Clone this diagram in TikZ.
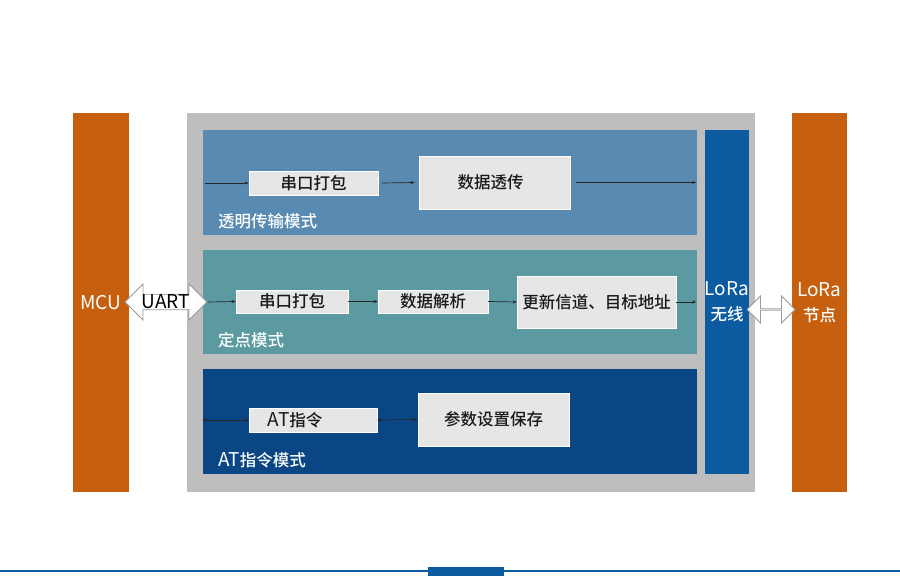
\documentclass[tikz,border=0pt]{standalone}
\usepackage{fontspec}
\usepackage{tikz}
\usetikzlibrary{arrows.meta, positioning, shapes.arrows}
\newfontfamily\cjk{Noto Sans CJK SC}[UprightFont={* Medium}]
\newfontfamily\latn{Noto Sans CJK SC}
\newcommand\lat[1]{{\latn\fontsize{19}{20}\selectfont #1}}
\definecolor{orangebar}{HTML}{C6600F}
\definecolor{framegray}{HTML}{BEBEBE}
\definecolor{tmblue}{HTML}{588AB2}
\definecolor{ddteal}{HTML}{5A9AA0}
\definecolor{atblue}{HTML}{0A4683}
\definecolor{lorablue}{HTML}{0C5AA0}
\definecolor{boxgray}{HTML}{E6E6E7}
\tikzset{
  bar/.style={fill=orangebar, text=white, font=\cjk\fontsize{16.5}{25}\selectfont, align=center, inner sep=0},
  panel/.style={fill=#1, minimum width=494, minimum height=105, inner sep=0},
  stepbox/.style={fill=boxgray, draw=white, line width=0.4pt, text=black!90, font=\cjk\fontsize{16.5}{18}\selectfont, inner sep=0},
  modelabel/.style={text=white, font=\cjk\fontsize{16.5}{18}\selectfont, inner sep=0},
  flow/.style={-{Stealth[length=4pt,width=3pt]}, black!85, line width=0.7pt},
  both/.style={{Stealth[length=4pt,width=3pt]}-{Stealth[length=4pt,width=3pt]}, black!85, line width=0.7pt},
  link/.style={double arrow, draw=gray!80, fill=white, line width=0.8pt, inner sep=0}
}
\begin{document}
\begin{tikzpicture}[x=1pt, y=-1pt]
    \useasboundingbox (0,0) rectangle (900,576);
    % outer blocks
    \node[bar, minimum width=56, minimum height=379] (mcu) at (101,302.5) {\lat{MCU}};
    \node[fill=framegray, minimum width=568, minimum height=379, inner sep=0] (frame) at (471,302.5) {};
    \node[bar, minimum width=55, minimum height=379] (node) at (819.5,302.5) {\lat{LoRa}\\节点};
    \node[bar, fill=lorablue, minimum width=44, minimum height=344] (radio) at (727,302) {\lat{LoRa}\\无线};
    % modes
    \node[panel=tmblue] (tm) at (450,182.5) {};
    \node[panel=ddteal, minimum height=104] (dd) at (450,302) {};
    \node[panel=atblue] (at) at (450,421.5) {};
    \node[modelabel, above right=6pt and 15pt of tm.south west] {透明传输模式};
    \node[modelabel, above right=6pt and 15pt of dd.south west] {定点模式};
    \node[modelabel, above right=6pt and 15pt of at.south west] {\lat{AT}指令模式};
    % transparent
    \node[stepbox, minimum width=129, minimum height=24] (tm1) at (313.5,183) {串口打包};
    \node[stepbox, minimum width=151, minimum height=53] (tm2) at (494.5,182.5) {数据透传\hspace*{8pt}};
    \draw[flow] ([xshift=2pt]tm.west |- tm1.west) -- (tm1.west);
    \draw[flow] ([xshift=4pt]tm1.east) -- ([xshift=-4pt]tm2.west);
    \draw[flow] ([xshift=6pt]tm2.east) -- ([xshift=-1pt]tm.east |- tm2.east);
    % fixed point
    \node[stepbox, minimum width=112, minimum height=23] (dd1) at (292,301.5) {串口打包};
    \node[stepbox, minimum width=110, minimum height=23] (dd2) at (433,301.5) {数据解析};
    \node[stepbox, minimum width=159, minimum height=52] (dd3) at (596.5,302) {更新信道、目标地址};
    % AT
    \node[stepbox, minimum width=128, minimum height=24] (at1) at (313,420) {\lat{AT}指令\hspace*{36pt}};
    \node[stepbox, minimum width=151, minimum height=53] (at2) at (493.5,419.5) {参数设置保存};
    \draw[both] (at.west |- at1.west) -- (at1.west);
    \draw[both] (at1.east) -- (at2.west);
    % links
    \node[link, minimum height=82, minimum width=36, double arrow head extend=10,
          font=\cjk] (uart) at (166,302) {\lat{UART}};
    \node[link, minimum height=48, minimum width=27, double arrow head extend=7] (air) at (771,309.5) {};
    \draw[flow] (uart.east) -- (dd1.west);
    \draw[flow] (dd1.east) -- (dd2.west);
    \draw[flow] (dd2.east) -- (dd3.west);
    \draw[flow] (dd3.east) -- ([xshift=-1pt]dd.east |- dd3.east);
    % footer
    \draw[lorablue, line width=2pt] (0,571) -- (900,571);
    \fill[lorablue] (428,567) rectangle (504,576);
\end{tikzpicture}
\end{document}
